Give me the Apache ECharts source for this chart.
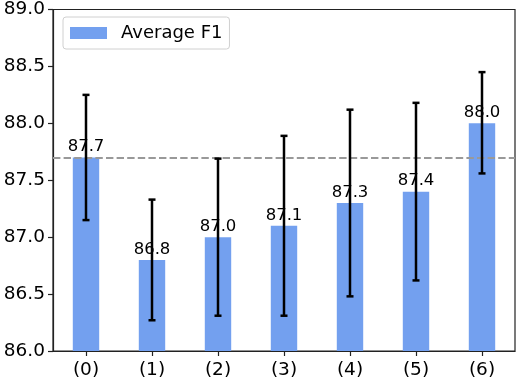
<!DOCTYPE html>
<html>
<head>
<meta charset="utf-8">
<script src="https://cdn.jsdelivr.net/npm/echarts@6/dist/echarts.min.js"></script>
<style>html,body{margin:0;padding:0;background:#fff;}#c{width:516px;height:380px;}</style>
</head>
<body>
<div id="c"></div>
<script>
const categories = ['(0)', '(1)', '(2)', '(3)', '(4)', '(5)', '(6)'];
const avgF1 = [87.7, 86.8, 87.0, 87.1, 87.3, 87.4, 88.0];
const errLow = [87.15, 86.27, 86.31, 86.31, 86.48, 86.62, 87.56];
const errHigh = [88.25, 87.33, 87.69, 87.89, 88.12, 88.18, 88.45];
const baselineValue = 87.7;
const yTicks = { min: 86.0, max: 89.0, step: 0.5 };
const seriesName = 'Average F1';

const FONT = 'DejaVu Sans';
const BAR_COLOR = '#73a0ef';

const errData = categories.map((c, i) => [i, errLow[i], errHigh[i]]);

const chart = echarts.init(document.getElementById('c'), null, { renderer: 'canvas' });
chart.setOption({
  animation: false,
  backgroundColor: '#fff',
  textStyle: { fontFamily: FONT },
  grid: { left: 53, right: 1, top: 9, bottom: 28, show: true, borderColor: '#222', borderWidth: 1.2, backgroundColor: 'transparent' },
  legend: {
    data: [seriesName],
    left: 63, top: 17,
    padding: [7, 7, 7, 7],
    itemWidth: 37, itemHeight: 12, itemGap: 10,
    borderColor: '#d0d0d0', borderWidth: 1, borderRadius: 3,
    textStyle: { fontFamily: FONT, fontSize: 18, color: '#000', padding: [0, 0, 0, 9] },
    icon: 'rect'
  },
  xAxis: {
    type: 'category',
    data: categories,
    boundaryGap: true,
    axisLine: { show: true, lineStyle: { color: '#222', width: 1.2 } },
    axisTick: { show: true, alignWithLabel: true, length: 5, lineStyle: { color: '#222', width: 1.2 } },
    axisLabel: { fontFamily: FONT, fontSize: 18.5, color: '#000', margin: 10 },
    splitLine: { show: false }
  },
  yAxis: {
    type: 'value',
    min: yTicks.min, max: yTicks.max, interval: yTicks.step,
    axisLine: { show: true, lineStyle: { color: '#222', width: 1.2 } },
    axisTick: { show: true, length: 5, lineStyle: { color: '#222', width: 1.2 } },
    axisLabel: { fontFamily: FONT, fontSize: 18.5, color: '#000', margin: 8, formatter: v => v.toFixed(1) },
    splitLine: { show: false }
  },
  series: [
    {
      name: 'baseline',
      type: 'line',
      data: [],
      z: 1,
      silent: true,
      markLine: {
        symbol: 'none',
        silent: true,
        label: { show: false },
        lineStyle: { color: '#999999', width: 2, type: [7.4, 3.2] },
        data: [{ yAxis: baselineValue }]
      }
    },
    {
      name: seriesName,
      type: 'bar',
      data: avgF1,
      barWidth: '40%',
      z: 2,
      itemStyle: { color: BAR_COLOR },
      label: {
        show: true, position: 'top', distance: 2,
        fontFamily: FONT, fontSize: 16.5, color: '#000',
        formatter: p => p.value.toFixed(1)
      }
    },
    {
      name: 'err',
      type: 'custom',
      z: 5,
      data: errData,
      renderItem: function (params, api) {
        const x = api.value(0);
        const lo = api.coord([x, api.value(1)]);
        const hi = api.coord([x, api.value(2)]);
        const cw = 3.5;
        const st = { stroke: '#000', lineWidth: 2.5 };
        return {
          type: 'group',
          children: [
            { type: 'line', shape: { x1: lo[0], y1: lo[1], x2: hi[0], y2: hi[1] }, style: st },
            { type: 'line', shape: { x1: lo[0] - cw, y1: lo[1], x2: lo[0] + cw, y2: lo[1] }, style: st },
            { type: 'line', shape: { x1: hi[0] - cw, y1: hi[1], x2: hi[0] + cw, y2: hi[1] }, style: st }
          ]
        };
      }
    }
  ]
});
</script>
</body>
</html>
